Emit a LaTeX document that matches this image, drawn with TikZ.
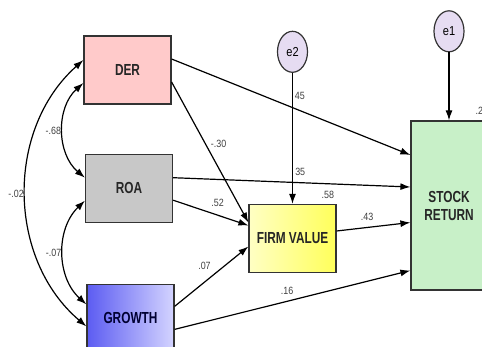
\documentclass[tikz,border=0pt]{standalone}
\usepackage{fontspec}
\usepackage{tikz}
\usetikzlibrary{arrows.meta,positioning,shapes.geometric}
\newfontfamily\boxfont[FakeStretch=0.74]{Liberation Sans}
\newfontfamily\lblfont[FakeStretch=0.85]{Liberation Sans}
\definecolor{derfill}{HTML}{FFCACA}
\definecolor{roafill}{HTML}{C8C8C8}
\definecolor{srfill}{HTML}{C8F0C8}
\definecolor{errfill}{HTML}{E6DCF2}
\definecolor{growleft}{HTML}{5C5CF2}
\definecolor{growright}{HTML}{D4D4FF}
\definecolor{fvleft}{HTML}{FFFFC4}
\definecolor{fvright}{HTML}{FFFF5A}
\begin{document}
\begin{tikzpicture}[x=1pt,y=-1pt,>={Latex[length=10pt,width=7pt]},line width=1.2pt]

		\tikzstyle{var}=[draw=black!80,line width=1.2pt,minimum width=87pt,minimum height=68pt,inner sep=0pt,font=\boxfont\bfseries\fontsize{16}{18}\selectfont,text=black!85,align=center]
		\tikzstyle{err}=[ellipse,draw=black!80,line width=1.2pt,fill=errfill,minimum width=30pt,minimum height=41pt,inner sep=0pt,font=\lblfont\fontsize{13}{14}\selectfont]
		\tikzstyle{lbl}=[inner sep=1pt,font=\lblfont\fontsize{10.5}{11}\selectfont,text=black!75]

		\useasboundingbox (0,0) rectangle (482,347);
		\clip (0,0) rectangle (482,347);

		\node[var,fill=derfill] (der) at (127.5,70) {DER};
		\node[var,fill=roafill] (roa) [below=49pt of der,xshift=1.5pt] {ROA};
		\node[var,left color=growleft,right color=growright,text=blue!20!black] (growth) [below=61pt of roa,xshift=1.5pt] {GROWTH};
		\node[var,left color=fvleft,right color=fvright] (fv) at (292.5,238.5) {FIRM VALUE};
		\node[var,fill=srfill,minimum width=76pt,minimum height=169pt] (sr) at (449,205.5) {STOCK\\RETURN};
		\node[err] (e_2) [above=131pt of fv] {e2};
		\node[err] (e_1) [above=68pt of sr] {e1};

		\node[lbl,anchor=south east] (r_fv) at ([xshift=-1pt,yshift=4pt]fv.north east) {.58};
		\node[lbl,anchor=south west] (r_sr) at ([xshift=25pt,yshift=4pt]sr.north) {.2};

		\path[->] ([yshift=11pt]der.east) edge node[lbl,pos=.51,anchor=south west,yshift=7pt] {45} ([yshift=50.5pt]sr.west)
					([yshift=-12pt]der.east) edge node[lbl,pos=.44,right=4pt] {-.30} ([yshift=16pt]fv.west)
					([yshift=10.5pt]roa.east) edge node[lbl,pos=.508,anchor=south west,yshift=5.6pt] {35} ([yshift=18.5pt]sr.west)
					([yshift=-12pt]roa.east) edge node[lbl,pos=.59,above=7pt] {.52} ([yshift=13pt]fv.west)
					([yshift=12pt]growth.east) edge node[lbl,pos=.405,above=11pt] {.07} ([yshift=-8pt]fv.west)
					([yshift=-11pt]growth.east) edge node[lbl,pos=.477,above=5.5pt] {.16} ([yshift=-65pt]sr.west)
					([yshift=7.5pt]fv.east) edge node[lbl,pos=.413,above=5.5pt] {.43} ([yshift=-17pt]sr.west)
					(e_1) edge (sr)
					(e_2) edge (fv);

		\path[<->] ([yshift=10pt]der.west) edge[bend right=49] node[lbl,left=0.5pt] {-.02} ([yshift=-8pt]growth.west)
					([yshift=-13pt]der.west) edge[bend right=49] node[lbl,left=0.5pt] {-.68} ([yshift=10.5pt]roa.west)
					([yshift=-12.5pt]roa.west) edge[bend right=47] node[lbl,left=0.5pt] {-.07} ([yshift=14pt]growth.west);
		\end{tikzpicture}
\end{document}
